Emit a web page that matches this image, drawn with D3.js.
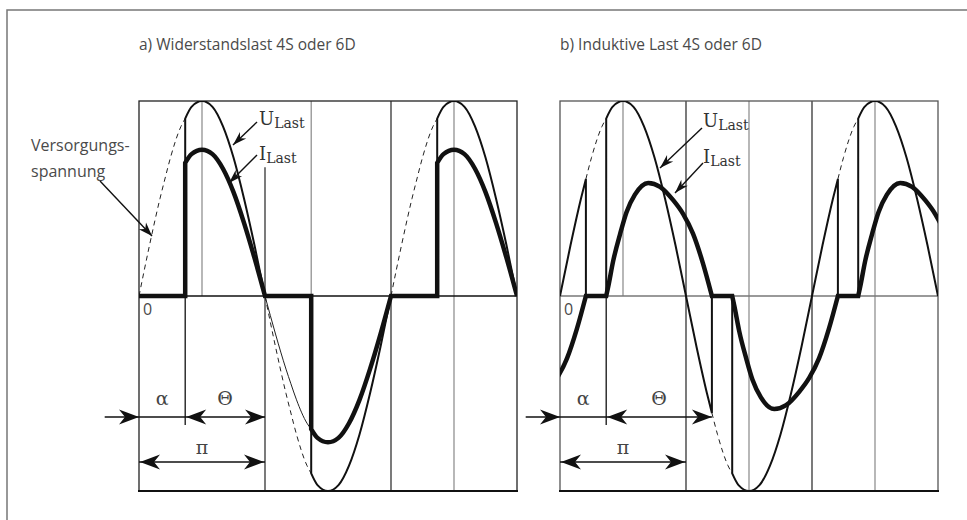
<!DOCTYPE html>
<html>
<head>
<meta charset="utf-8">
<script src="https://cdn.jsdelivr.net/npm/d3@7/dist/d3.min.js"></script>
<style>
  body { margin: 0; background: #fff; }
  svg { display: block; }
  .sans { font-family: "Open Sans", sans-serif; fill: #4a4a4a; }
  .serif { font-family: "DejaVu Serif", "Liberation Serif", serif; fill: #333; }
</style>
</head>
<body>
<svg id="chart" width="967" height="520"></svg>
<script>

// one half period of the supply voltage: angle in degrees, amplitude relative to peak
var halfWave = [[0, 0], [15, 0.26], [30, 0.5], [37, 0.6], [45, 0.71], [60, 0.87], [66, 0.91],
                [75, 0.97], [90, 1], [105, 0.97], [120, 0.87], [135, 0.71], [150, 0.5], [165, 0.26], [180, 0]];

// firing and extinction angles (degrees)
var firing = [66, 246, 426];
var extinction = [37, 217, 397];

// a) resistive load: current is the voltage scaled down
var currentRatioA = 0.75;

// b) inductive load: one current lobe, offset from firing angle -> amplitude
var lobeB = [[0, 0], [3, 0.05], [10, 0.18], [20, 0.32], [29, 0.43], [41, 0.52], [60, 0.58],
             [77, 0.56], [96, 0.49], [110, 0.42], [124, 0.32], [138, 0.17], [151, 0]];

// vertical grid lines: [angle, from, to]
var gridA = [[90, 1, 0], [180, 0.66, -1], [246, 1, 0], [360, 1, -1], [450, 1, -1]];
var gridB = [[90, 1, 0], [180, 1, -1], [270, 1, -1], [360, 1, -1], [450, 1, -1]];

var titles = ["a) Widerstandslast 4S oder 6D", "b) Induktive Last 4S oder 6D"];
var supplyLabel = ["Versorgungs-", "spannung"];

var svg = d3.select("#chart");

var y = d3.scaleLinear().domain([-1, 1]).range([491, 101]);
var xA = d3.scaleLinear().domain([0, 540]).range([139, 517]);
var xB = d3.scaleLinear().domain([0, 540]).range([560, 938]);

// full supply wave over three half periods
var supply = [];
[0, 1, 2].forEach(function(k) {
  halfWave.forEach(function(p, i) {
    if (k > 0 && i === 0) return;
    supply.push([k * 180 + p[0], (k % 2 ? -1 : 1) * p[1]]);
  });
});

function segment(a, b, k) {
  k = k || 1;
  return supply.filter(function(d) { return d[0] >= a && d[0] <= b; })
    .map(function(d) { return [d[0], d[1] * k]; });
}

function curve(x, pts) {
  return d3.line().x(function(d) { return x(d[0]); }).y(function(d) { return y(d[1]); })
    .curve(d3.curveMonotoneX)(pts);
}
// turn a path's leading moveto into a lineto so pieces join up
function cont(s) { return "L" + s.slice(1); }

function head(g, x, yy, ang, len, wid) {
  g.append("path")
    .attr("d", "M0,0L" + (-len) + "," + (-wid / 2) + "L" + (-len * 0.7) + ",0L" + (-len) + "," + (wid / 2) + "Z")
    .attr("transform", "translate(" + x + "," + yy + ")rotate(" + ang + ")")
    .attr("fill", "#111");
}
function arrow(g, x1, y1, x2, y2, len, wid) {
  g.append("line").attr("x1", x1).attr("y1", y1).attr("x2", x2).attr("y2", y2)
    .attr("stroke", "#111").attr("stroke-width", 1.4);
  head(g, x2, y2, Math.atan2(y2 - y1, x2 - x1) * 180 / Math.PI, len, wid);
}

// outer frame
svg.append("path").attr("d", "M967,10H7V520").attr("fill", "none")
  .attr("stroke", "#777").attr("stroke-width", 1.5);

svg.selectAll(".title").data(titles).enter().append("text")
  .attr("class", "sans").attr("x", function(d, i) { return i ? 560 : 139; }).attr("y", 50)
  .style("font-size", "15.5px").text(function(d) { return d; });

svg.append("text").attr("class", "sans").style("font-size", "16px")
  .selectAll("tspan").data(supplyLabel).enter().append("tspan")
  .attr("x", 31).attr("y", function(d, i) { return 151 + i * 25.5; }).text(function(d) { return d; });

function frame(g, x, grid, zeroColor, borderColor, id) {
  var x0 = x(0), x1 = x(540);
  g.append("clipPath").attr("id", id).append("rect")
    .attr("x", x0).attr("y", y(1)).attr("width", x1 - x0).attr("height", y(-1) - y(1));
  grid.forEach(function(d) {
    g.append("line").attr("x1", x(d[0])).attr("x2", x(d[0])).attr("y1", y(d[1])).attr("y2", y(d[2]))
      .attr("stroke", d[0] % 180 === 0 ? "#222" : "#888").attr("stroke-width", 1.2);
  });
  g.append("line").attr("x1", x0).attr("x2", x1).attr("y1", y(0)).attr("y2", y(0))
    .attr("stroke", zeroColor).attr("stroke-width", 1.3);
  g.append("rect").attr("x", x0).attr("y", y(1)).attr("width", x1 - x0).attr("height", y(-1) - y(1))
    .attr("fill", "none").attr("stroke", borderColor).attr("stroke-width", 1.3);
  g.append("line").attr("x1", x0 - 1).attr("x2", x1 + 1).attr("y1", y(-1)).attr("y2", y(-1))
    .attr("stroke", "#111").attr("stroke-width", 2);
  g.append("text").attr("class", "sans").style("font-size", "16px").attr("text-anchor", "middle")
    .attr("x", x0 + 8.5).attr("y", 315).text("0");
}

function dashed(g, x, a, b) {
  g.append("path").attr("d", curve(x, segment(a, b))).attr("fill", "none")
    .attr("stroke", "#222").attr("stroke-width", 1).attr("stroke-dasharray", "5,4");
}

function angleMarks(g, x, thetaEnd) {
  var r1 = 417, r2 = 462;
  g.append("line").attr("x1", x(66)).attr("x2", x(66)).attr("y1", y(0)).attr("y2", 425)
    .attr("stroke", "#111").attr("stroke-width", 1.3);
  arrow(g, x(-49), r1, x(0), r1, 20, 15);
  g.append("line").attr("x1", x(0)).attr("x2", x(thetaEnd)).attr("y1", r1).attr("y2", r1)
    .attr("stroke", "#111").attr("stroke-width", 1.4);
  head(g, x(66) + 1, r1, 180, 20, 15);
  head(g, x(thetaEnd), r1, 0, 20, 15);
  g.append("line").attr("x1", x(0)).attr("x2", x(180)).attr("y1", r2).attr("y2", r2)
    .attr("stroke", "#111").attr("stroke-width", 1.4);
  head(g, x(0) + 1, r2, 180, 20, 15);
  head(g, x(180) - 1, r2, 0, 20, 15);
  var lab = [["\u03b1", 33, 405], ["\u0398", (66 + thetaEnd) / 2, 405], ["\u03c0", 90, 454]];
  lab.forEach(function(d) {
    g.append("text").attr("class", "serif").style("font-size", "19px").style("fill", "#444")
      .attr("text-anchor", "middle").attr("x", x(d[1])).attr("y", d[2]).text(d[0]);
  });
}

function loadLabels(g, lx, uy, iy) {
  [["U", uy], ["I", iy]].forEach(function(d) {
    var t = g.append("text").attr("class", "serif").attr("x", lx).attr("y", d[1]);
    t.append("tspan").style("font-size", "18px").text(d[0]);
    t.append("tspan").style("font-size", "14px").attr("dy", 3).text("Last");
  });
}

// ---------- a) resistive load ----------
var ga = svg.append("g");
frame(ga, xA, gridA, "#111", "#222", "clipA");
var ca = ga.append("g").attr("clip-path", "url(#clipA)");

[[0, 66], [180, 246], [360, 426]].forEach(function(s) { dashed(ca, xA, s[0], s[1]); });
// scaled supply drawn thin in the negative half
ca.append("path").attr("d", curve(xA, segment(180, 246, currentRatioA))).attr("fill", "none")
  .attr("stroke", "#222").attr("stroke-width", 1);

firing.forEach(function(f, k) {
  var d = "M" + xA(f) + "," + y(0) + cont(curve(xA, segment(f, (k + 1) * 180)));
  ca.append("path").attr("d", d).attr("fill", "none").attr("stroke", "#111").attr("stroke-width", 2);
});

var dI = "M" + xA(0) + "," + y(0);
firing.forEach(function(f, k) {
  dI += "L" + xA(f) + "," + y(0) + cont(curve(xA, segment(f, (k + 1) * 180, currentRatioA)));
});
ca.append("path").attr("d", dI).attr("fill", "none").attr("stroke", "#111")
  .attr("stroke-width", 4.5).attr("stroke-linejoin", "miter");

angleMarks(ga, xA, 180);
loadLabels(ga, 259, 125, 160);
arrow(ga, 257, 122, 233, 145, 14, 9);
arrow(ga, 257, 155, 229, 183, 14, 9);
arrow(svg, 100, 181, 152, 236, 14, 10);

// ---------- b) inductive load ----------
var gb = svg.append("g");
frame(gb, xB, gridB, "#777", "#555", "clipB");
var cb = gb.append("g").attr("clip-path", "url(#clipB)");

extinction.forEach(function(e, k) { dashed(cb, xB, e, firing[k]); });

var dU = curve(xB, segment(0, extinction[0]));
extinction.forEach(function(e, k) {
  var f = firing[k];
  var next = k < 2 ? extinction[k + 1] : 540;
  dU += "L" + xB(e) + "," + y(0) + "L" + xB(f) + "," + y(0) + cont(curve(xB, segment(f, next)));
});
cb.append("path").attr("d", dU).attr("fill", "none").attr("stroke", "#111")
  .attr("stroke-width", 2).attr("stroke-linejoin", "miter");

// current lobes: the one before 0 deg is the tail of the previous negative half
var lobes = [firing[0] - 180].concat(firing);
var dIb = "";
lobes.forEach(function(f, k) {
  var s = k % 2 ? 1 : -1;
  var c = curve(xB, lobeB.map(function(p) { return [f + p[0], s * p[1]]; }));
  dIb += (k === 0 ? c : "L" + xB(f) + "," + y(0) + cont(c));
});
cb.append("path").attr("d", dIb).attr("fill", "none").attr("stroke", "#111")
  .attr("stroke-width", 4.5).attr("stroke-linejoin", "miter");

angleMarks(gb, xB, 217);
loadLabels(gb, 703, 127, 163);
arrow(gb, 702, 128, 660, 168, 14, 9);
arrow(gb, 703, 163, 675, 193, 14, 9);

</script>
</body>
</html>
